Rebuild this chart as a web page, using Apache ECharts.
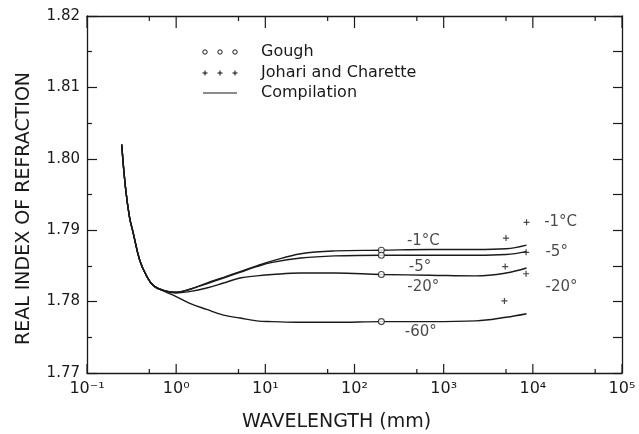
<!doctype html>
<html lang="en">
<head>
<meta charset="UTF-8">
<title>Real index of refraction</title>
<script src="https://cdn.jsdelivr.net/npm/echarts@6/dist/echarts.min.js"></script>
<style>
  html, body { margin: 0; padding: 0; background: #fff; }
  #chart { width: 639px; height: 434px; }
</style>
</head>
<body>
<div id="chart"></div>
<script>
// wavelength grid (mm) for the compilation curves
const wavelength = [0.245, 0.27, 0.3, 0.33, 0.39, 0.47, 0.56, 0.75, 1.0, 1.4, 2.2, 3.4, 5.2, 8, 12, 25, 60, 200, 700, 2300, 5000, 8500]
// compilation, real index at each wavelength
const comp_m1  = [1.8020, 1.7960, 1.7918, 1.7896, 1.7858, 1.7835, 1.7822, 1.7815, 1.7813, 1.7817, 1.7826, 1.7834, 1.7842, 1.7850, 1.7857, 1.7867, 1.7871, 1.7872, 1.7873, 1.7873, 1.7874, 1.7879]
const comp_m5  = [1.8020, 1.7960, 1.7918, 1.7896, 1.7858, 1.7835, 1.7822, 1.7815, 1.7813, 1.7817, 1.7825, 1.7833, 1.7841, 1.7849, 1.7855, 1.7861, 1.7864, 1.7865, 1.7865, 1.7865, 1.7866, 1.7870]
const comp_m20 = [1.8020, 1.7960, 1.7918, 1.7896, 1.7858, 1.7835, 1.7822, 1.7815, 1.7812, 1.7814, 1.7819, 1.7826, 1.7833, 1.7836, 1.7838, 1.7840, 1.7840, 1.7838, 1.7837, 1.7836, 1.7840, 1.7847]
const comp_m60 = [1.8020, 1.7960, 1.7918, 1.7896, 1.7858, 1.7835, 1.7822, 1.7814, 1.7807, 1.7798, 1.7789, 1.7781, 1.7777, 1.7773, 1.7772, 1.7771, 1.7771, 1.7772, 1.7772, 1.7773, 1.7778, 1.7783]

// Gough points
const goughX = [200, 200, 200, 200]
const goughY = [1.7872, 1.7865, 1.7838, 1.7772]

// Johari and Charette points
const johariX = [8500, 5000, 8400, 4900, 8400, 4800]
const johariY = [1.7911, 1.7889, 1.7869, 1.7849, 1.7839, 1.7801]

// temperature labels
const tempText = ['-1°C', '-5°', '-20°', '-60°', '-1°C', '-5°', '-20°']
const tempX = [592, 542, 592, 555, 20500, 18500, 21000]
const tempY = [1.7885, 1.7849, 1.7820, 1.7757, 1.7912, 1.7870, 1.7820]

// axes
const yMin = 1.77
const yMax = 1.82
const majorX = [0.1, 1, 10, 100, 1000, 10000, 100000]
const minorX = [0.5, 5, 50, 500, 5000, 50000]
const xTickLabels = ['10⁻¹', '10⁰', '10¹', '10²', '10³', '10⁴', '10⁵']

const ink = '#1a1a1a'
const font = 'DejaVu Sans'

let chart = echarts.init(document.getElementById('chart'))

function pairs(xs, ys) {
  return xs.map((x, i) => [x, ys[i]])
}

let curves = [comp_m1, comp_m5, comp_m20, comp_m60].map(ys => ({
  type: 'line',
  data: pairs(wavelength, ys),
  showSymbol: false,
  smooth: 0.4,
  lineStyle: { color: ink, width: 1.4 },
  z: 2
}))

// small legend drawn by hand, like the original
let legendItems = []
;[205, 220, 235].forEach(cx => {
  legendItems.push({ type: 'circle', shape: { cx: cx, cy: 52, r: 2.2 }, style: { fill: 'none', stroke: ink, lineWidth: 1 } })
  legendItems.push({ type: 'line', shape: { x1: cx - 2.5, y1: 73, x2: cx + 2.5, y2: 73 }, style: { stroke: ink, lineWidth: 1.1 } })
  legendItems.push({ type: 'line', shape: { x1: cx, y1: 70.5, x2: cx, y2: 75.5 }, style: { stroke: ink, lineWidth: 1.1 } })
})
legendItems.push({ type: 'line', shape: { x1: 203, y1: 93, x2: 237, y2: 93 }, style: { stroke: ink, lineWidth: 1.1 } })
;[['Gough', 52], ['Johari and Charette', 73], ['Compilation', 93]].forEach(t => {
  legendItems.push({ type: 'text', x: 261, y: t[1], style: { text: t[0], fill: ink, font: '16px ' + font, verticalAlign: 'middle' } })
})

let option = {
  animation: false,
  backgroundColor: '#fff',
  grid: { left: 87, right: 17, top: 16, bottom: 61, outerBoundsMode: 'none' },
  xAxis: [
    {
      type: 'log', logBase: 10, min: 0.1, max: 100000, splitNumber: 6, position: 'bottom',
      name: 'WAVELENGTH (mm)', nameLocation: 'middle', nameGap: 40,
      nameTextStyle: { color: ink, fontFamily: font, fontSize: 19, padding: [0, 36, 0, 0] },
      axisLine: { show: true, onZero: false, lineStyle: { color: ink, width: 1.3 } },
      axisTick: { show: false },
      axisLabel: {
        margin: 8, color: ink, fontFamily: font, fontSize: 16,
        formatter: v => xTickLabels[Math.round(Math.log10(v)) + 1]
      },
      splitLine: { show: false }
    },
    {
      type: 'log', logBase: 10, min: 0.1, max: 100000, position: 'top',
      axisLine: { show: true, onZero: false, lineStyle: { color: ink, width: 1.3 } },
      axisTick: { show: false },
      axisLabel: { show: false },
      splitLine: { show: false }
    }
  ],
  yAxis: [
    {
      type: 'value', min: yMin, max: yMax, interval: 0.01, position: 'left',
      name: 'REAL INDEX OF REFRACTION', nameLocation: 'middle', nameGap: 53, nameRotate: 90,
      nameTextStyle: { color: ink, fontFamily: font, fontSize: 19, padding: [0, 28, 0, 0] },
      axisLine: { show: true, onZero: false, lineStyle: { color: ink, width: 1.3 } },
      axisTick: { show: true, inside: true, length: 10, lineStyle: { color: ink, width: 1.2 } },
      minorTick: { show: true, splitNumber: 2, length: 5, lineStyle: { color: ink, width: 1.2 } },
      axisLabel: { margin: 7, color: ink, fontFamily: font, fontSize: 15, formatter: v => v.toFixed(2) },
      splitLine: { show: false }
    },
    {
      type: 'value', min: yMin, max: yMax, interval: 0.005, position: 'right',
      axisLine: { show: true, onZero: false, lineStyle: { color: ink, width: 1.3 } },
      axisTick: { show: true, inside: true, length: 9, lineStyle: { color: ink, width: 1.2 } },
      axisLabel: { show: false },
      splitLine: { show: false }
    }
  ],
  series: curves.concat([
    {
      type: 'scatter',
      data: pairs(goughX, goughY),
      symbol: 'circle',
      symbolSize: 6,
      itemStyle: { color: '#fff', borderColor: ink, borderWidth: 1.1 },
      z: 4
    },
    {
      type: 'scatter',
      data: pairs(johariX, johariY),
      symbol: 'path://M0,5L10,5M5,0L5,10',
      symbolSize: 6,
      itemStyle: { color: 'none', borderColor: ink, borderWidth: 1.2 },
      z: 4
    },
    {
      type: 'scatter',
      data: tempText.map((t, i) => ({ name: t, value: [tempX[i], tempY[i]] })),
      symbolSize: 0,
      label: {
        show: true, position: 'inside', formatter: '{b}',
        color: ink, fontFamily: font, fontSize: 15
      },
      z: 5
    }
  ]),
  graphic: legendItems
}

chart.setOption(option)

// inward x ticks on the bottom and top frame, placed through the chart's own scales
let tickMarks = []
function addTicks(values, atY, len) {
  let dir = atY === yMax ? 1 : -1
  values.forEach(x => {
    let p = chart.convertToPixel({ gridIndex: 0 }, [x, atY])
    if (!p) return
    tickMarks.push({
      type: 'line', silent: true,
      shape: { x1: p[0], y1: p[1], x2: p[0], y2: p[1] + dir * len },
      style: { stroke: ink, lineWidth: 1.2 }
    })
  })
}
addTicks(majorX, yMin, 9)
addTicks(minorX, yMin, 4)
addTicks(majorX, yMax, 12)
addTicks(minorX, yMax, 5)
chart.setOption({ graphic: legendItems.concat(tickMarks) })
</script>
</body>
</html>
